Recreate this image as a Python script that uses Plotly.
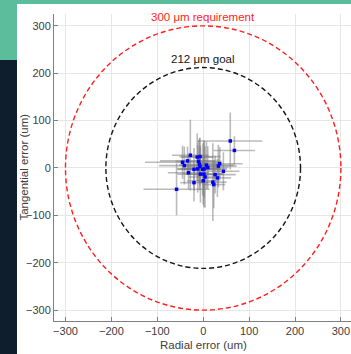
import plotly.graph_objects as go

# Data
radial = [59, 68, -28, -13, -7, -10, -8, -7, -45, -34, -41, 7, 10, 2, -1, -12, -20,
          36, 33, 44, -32, -6, 1.5, 26, 4, 31, 0, -20, 21, 23, -58]
tangential = [57, 37, 27, 23, 24, 14, 8, 3, 12, 15, 5, 6, 1, -2, -3, -2, -3,
              9, 4, -7, -10, -13, -13, -14, -19, -21, -27, -31, -30, -35, -45]
radial_err = [70, 45, 40, 35, 45, 50, 40, 35, 82, 60, 55, 60, 45, 50, 40, 45, 35,
              50, 40, 35, 45, 50, 40, 45, 35, 30, 35, 30, 30, 25, 72]
tangential_err = [60, 30, 75, 50, 40, 45, 55, 40, 35, 30, 40, 50, 45, 60, 55, 50, 45,
                  35, 45, 40, 35, 60, 70, 40, 65, 40, 50, 40, 82, 50, 55]

requirement_radius = 300
goal_radius = 212
ticks = [-300, -200, -100, 0, 100, 200, 300]

fig = go.Figure()
fig.add_trace(go.Scatter(
    x=radial, y=tangential, mode="markers",
    marker=dict(color="rgb(0,0,255)", size=3.5, symbol="square"),
    error_x=dict(type="data", array=radial_err, color="rgba(120,120,120,0.5)", thickness=1.6, width=0),
    error_y=dict(type="data", array=tangential_err, color="rgba(120,120,120,0.5)", thickness=1.6, width=0),
    showlegend=False, hoverinfo="skip",
))

shapes = [
    # background decorations (paper coords)
    dict(type="rect", xref="paper", yref="paper", x0=-0.19, x1=1.05, y0=1.0326, y1=1.06,
         fillcolor="#5cbd9c", line=dict(width=0), layer="below"),
    dict(type="rect", xref="paper", yref="paper", x0=-0.19, x1=-0.1246, y0=0.85, y1=1.06,
         fillcolor="#5cbd9c", line=dict(width=0), layer="below"),
    dict(type="rect", xref="paper", yref="paper", x0=-0.19, x1=-0.1246, y0=-0.12, y1=0.85,
         fillcolor="#0e1e2c", line=dict(width=0), layer="below"),
    dict(type="circle", xref="x", yref="y",
         x0=-requirement_radius, x1=requirement_radius, y0=-requirement_radius, y1=requirement_radius,
         line=dict(color="rgb(255,30,30)", width=1.4, dash="5px,3px")),
    dict(type="circle", xref="x", yref="y",
         x0=-goal_radius, x1=goal_radius, y0=-goal_radius, y1=goal_radius,
         line=dict(color="rgb(20,20,20)", width=1.4, dash="5px,3px")),
]

annotations = [
    dict(x=0, y=318, xref="x", yref="y", text="300 μm requirement", showarrow=False,
         font=dict(color="rgb(255,30,30)", size=11.5)),
    dict(x=0, y=230, xref="x", yref="y", text="212 μm goal", showarrow=False,
         font=dict(color="rgb(20,20,20)", size=11.5)),
    dict(x=-0.104, y=0.5, xref="paper", yref="paper", text="Tangential error (um)",
         textangle=-90, showarrow=False, xanchor="center", yanchor="middle",
         font=dict(size=11.5, color="#404040")),
    dict(x=0.503, y=-0.078, xref="paper", yref="paper", text="Radial error (um)",
         showarrow=False, xanchor="center", yanchor="middle",
         font=dict(size=11.5, color="#404040")),
]

axis_common = dict(
    tickvals=ticks, showgrid=True, gridcolor="#e6e6e6", gridwidth=1,
    zeroline=False, showline=True, linecolor="#808080", linewidth=1,
    ticks="inside", ticklen=4, tickcolor="#808080",
    tickfont=dict(size=11, color="#404040"),
)

fig.update_layout(
    width=351, height=354,
    margin=dict(l=54, r=0, t=14, b=33, autoexpand=False),
    paper_bgcolor="white", plot_bgcolor="white",
    font=dict(family="Liberation Sans, Arial, sans-serif", color="#404040"),
    shapes=shapes, annotations=annotations,
    xaxis=dict(range=[-325, 322], **axis_common),
    yaxis=dict(range=[-323, 325], **axis_common),
)

fig.write_html("out.html", config={"displayModeBar": False},
               post_script="document.body.style.margin='0';document.body.style.overflow='hidden';")
